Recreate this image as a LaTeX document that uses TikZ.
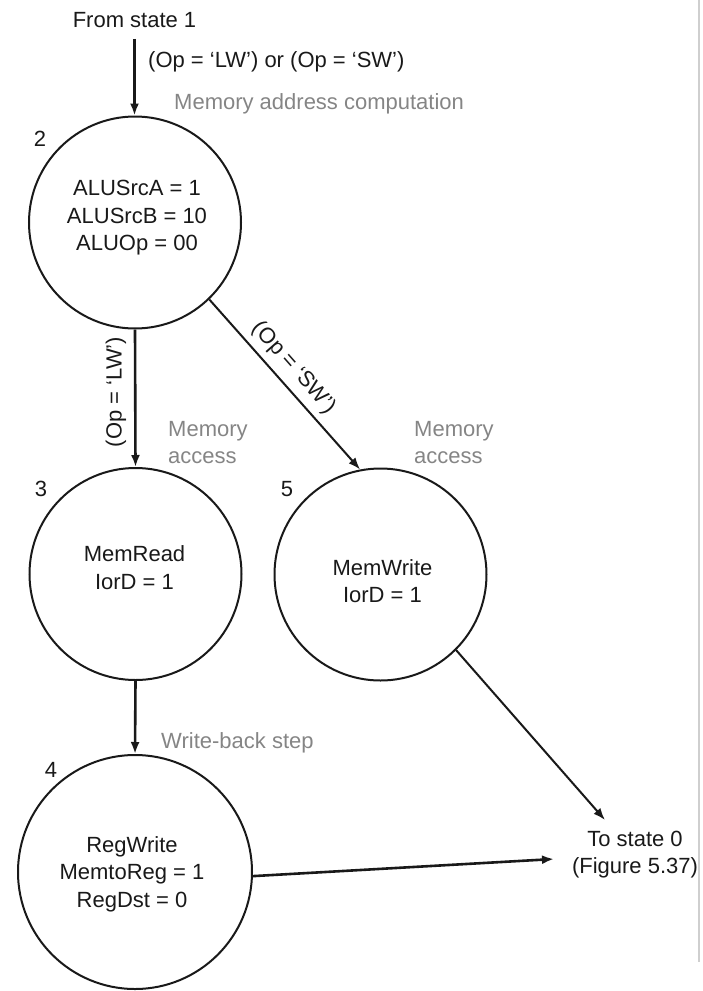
\documentclass[tikz,border=0pt]{standalone}
\usepackage{fontspec}
\setmainfont{Liberation Sans}
\usetikzlibrary{arrows.meta}
\definecolor{inkgray}{HTML}{858585}
\definecolor{edgegray}{HTML}{CFCFCF}
\begin{document}
\begin{tikzpicture}[x=1pt,y=-1pt,
  every node/.style={font=\fontsize{22}{27.5}\selectfont, inner sep=0pt, text=black!90},
  state/.style={draw=black!90, circle, line width=2pt, minimum size=212pt},
  note/.style={text=inkgray, align=left, anchor=west},
  lbl/.style={align=center},
  arr/.style={draw=black!90, -{Latex[length=12pt,width=9pt]}, line width=2pt},
  thickarr/.style={arr, line width=2.6pt}]
\useasboundingbox (0,0) rectangle (702,991);

% thin rule along the right margin
\draw[edgegray, line width=1.2pt] (699,0) -- (699,962);

% states
\node[state] (s2) at (135,222.5) {};
\node[state] (s3) at (135.5,574) {};
\node[state] (s5) at (380.5,574.5) {};
\node[state, minimum size=234pt] (s4) at (135,872) {};

% state outputs
\node[lbl] (s2t) at (137,218) {ALUSrcA = 1\\ALUSrcB = 10\\ALUOp = 00};
\node[lbl] (s3t) at (134.5,567.5) {MemRead\\IorD = 1};
\node[lbl] (s5t) at (382.5,581) {MemWrite\\IorD = 1};
\node[lbl] (s4t) at (132,874) {RegWrite\\MemtoReg = 1\\RegDst = 0};

% state numbers
\node (n2) at (40,139) {2};
\node (n3) at (41,489) {3};
\node (n5) at (287,489) {5};
\node (n4) at (51,770) {4};

% entry and conditions
\node (from) at (134.5,20) {From state 1};
\node[anchor=west] (cond) at (148,62) {(Op = `LW') or (Op = `SW')};
\node[rotate=90] (lw) at (116,392) {(Op = `LW')};
\node[rotate=-48.6] (sw) at (294,368) {(Op = `SW')};

% step descriptions
\node[note] (mac) at (174,104) {Memory address computation};
\node[note] (acc3) at (168,442.5) {Memory\\access};
\node[note] (acc5) at (414,442.5) {Memory\\access};
\node[note] (wb) at (161,743) {Write-back step};

% exit
\node[lbl] (to0) at (635,854.5) {To state 0\\(Figure 5.37)};
\coordinate (to0a) at (605,820);
\coordinate (to0b) at (554,859);

% transitions
\draw[thickarr, shorten <=11pt] (from.south) -- (from.south |- s2.north);
\draw[thickarr] (s2.south) -- (s3.north);
\draw[arr] (s2.-46) -- (s5.101);
\draw[thickarr] (s3.south) -- (s4.north);
\draw[arr] (s5.-45) -- (to0a);
\draw[thickarr] (s4.-2) -- (to0b);
\end{tikzpicture}
\end{document}
